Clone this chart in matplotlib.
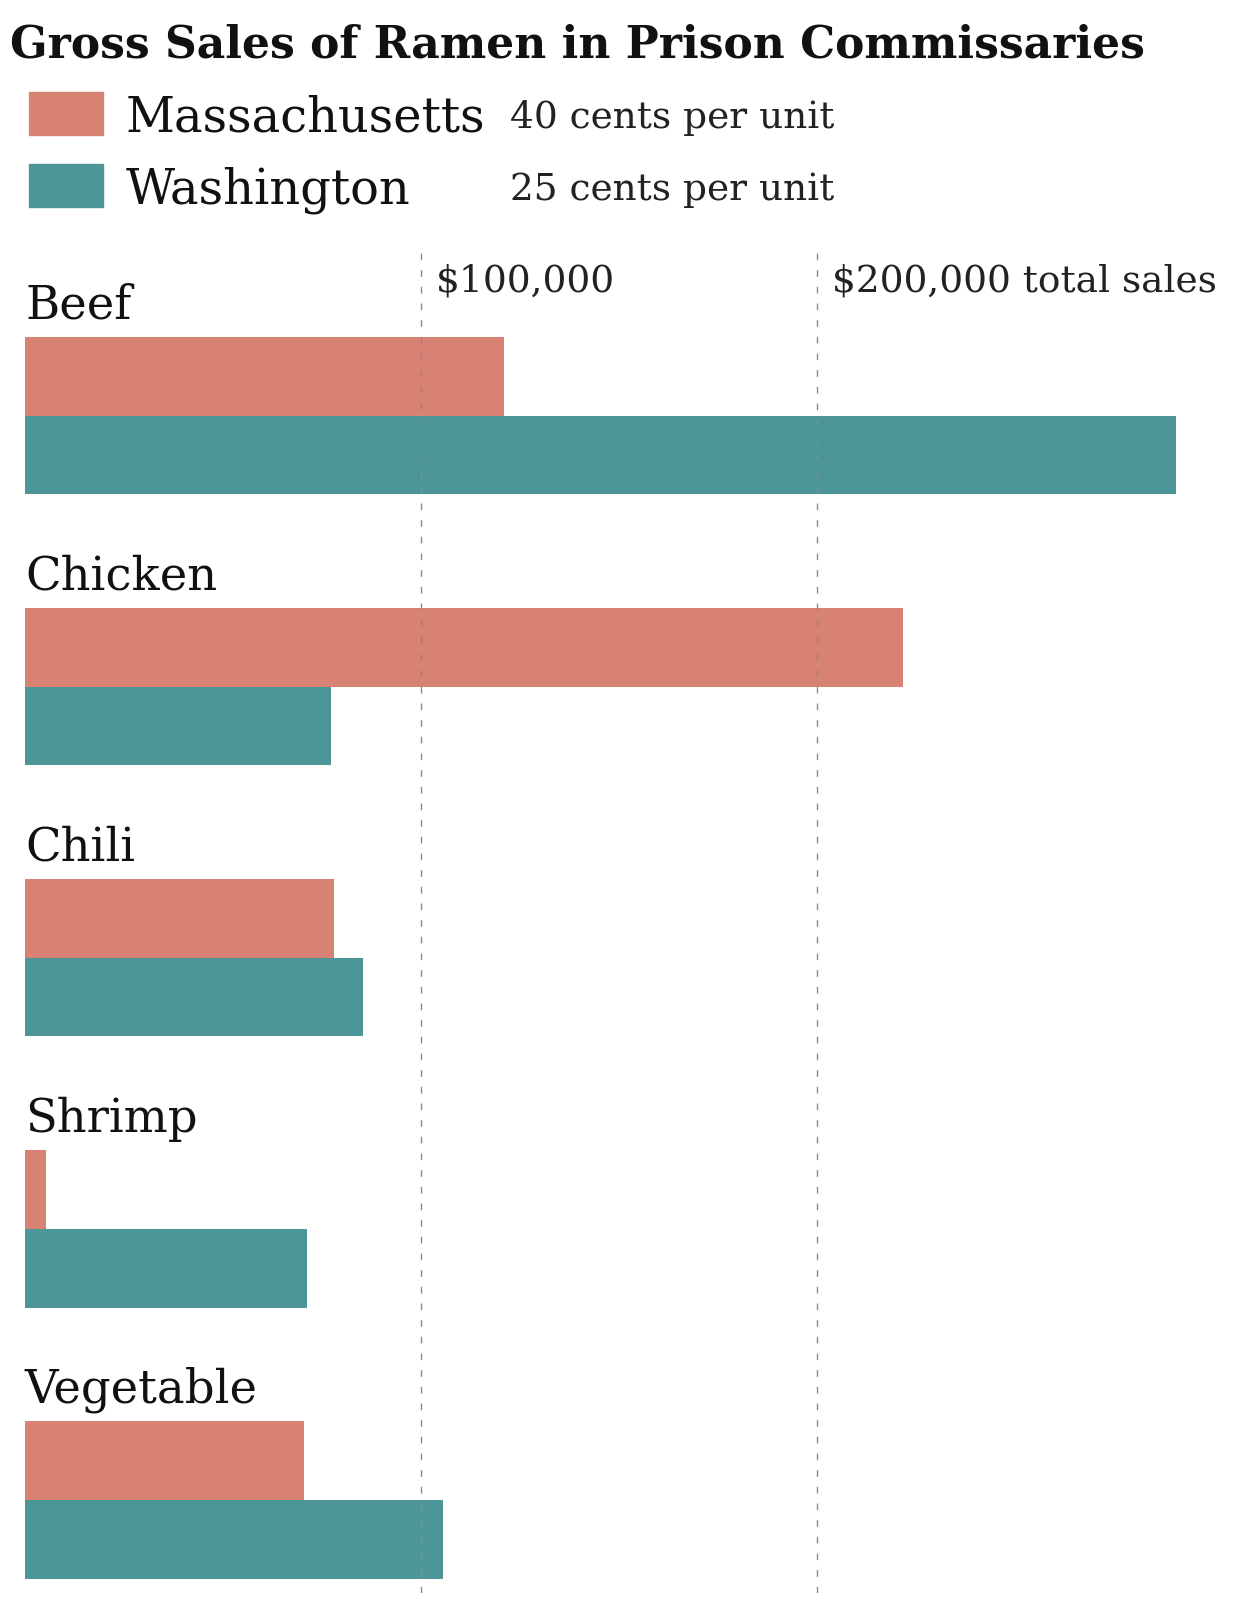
"""
Gross sales of ramen in prison commissaries, grouped horizontal bars
"""
import matplotlib
matplotlib.use("Agg")
import matplotlib.pyplot as plt
from matplotlib.patches import Rectangle

# data (dollars of gross sales)
flavors = ["Beef", "Chicken", "Chili", "Shrimp", "Vegetable"]
states = ["Massachusetts", "Washington"]
unit_prices = ["40 cents per unit", "25 cents per unit"]
massachusetts = [121000, 221600, 78000, 5200, 70500]
washington = [290700, 77300, 85300, 71300, 105600]
gridlines = [100000, 200000]
grid_labels = ["$100,000", "$200,000 total sales"]

colors = ["#D88273", "#4C9698"]

W, H = 1251, 1606
plt.rcParams["font.family"] = ["DejaVu Serif"]

fig = plt.figure(figsize=(W / 100, H / 100), dpi=100)

# axes box in pixels of the full figure
x0, y0, y1 = 25, 254, 1594
ax = fig.add_axes([x0 / W, 1 - y1 / H, (W - x0) / W, (y1 - y0) / H])
ax.set_xlim(0, (W - x0) / 396 * 100000)
ax.set_ylim(4.343, -0.60)
ax.axis("off")

bar_h = 0.29
idx = list(range(len(flavors)))
ax.barh([i - bar_h / 2 for i in idx], massachusetts, height=bar_h,
        color=colors[0], zorder=1)
ax.barh([i + bar_h / 2 for i in idx], washington, height=bar_h,
        color=colors[1], zorder=1)

for i, name in enumerate(flavors):
    ax.text(0, i - bar_h - 0.072, name, fontsize=33.5, va="baseline",
            ha="left", color="#111111")

for v, lab in zip(gridlines, grid_labels):
    ax.axvline(v, color="#8a8a8a", lw=1.0, linestyle=(0, (4.8, 7.2)),
               zorder=3)
    ax.annotate(lab, xy=(v, -0.461), xytext=(11, 0),
                textcoords="offset points", fontsize=27, va="baseline",
                ha="left", color="#222222")

# title
fig.text(10 / W, 1 - 58 / H, "Gross Sales of Ramen in Prison Commissaries",
         fontsize=31.7, fontweight="bold", va="baseline", ha="left",
         color="#111111")

# legend
for k, (state, price) in enumerate(zip(states, unit_prices)):
    top = 93 + k * 72
    fig.add_artist(Rectangle((29 / W, 1 - (top + 43) / H), 74 / W, 43 / H,
                             transform=fig.transFigure, color=colors[k]))
    fig.text(126 / W, 1 - (top + 38) / H, state, fontsize=34.5,
             va="baseline", ha="left", color="#111111")
    fig.text(510 / W, 1 - (top + 35) / H, price, fontsize=27,
             va="baseline", ha="left", color="#222222")

fig.savefig("out.png", dpi=100, facecolor="white")
